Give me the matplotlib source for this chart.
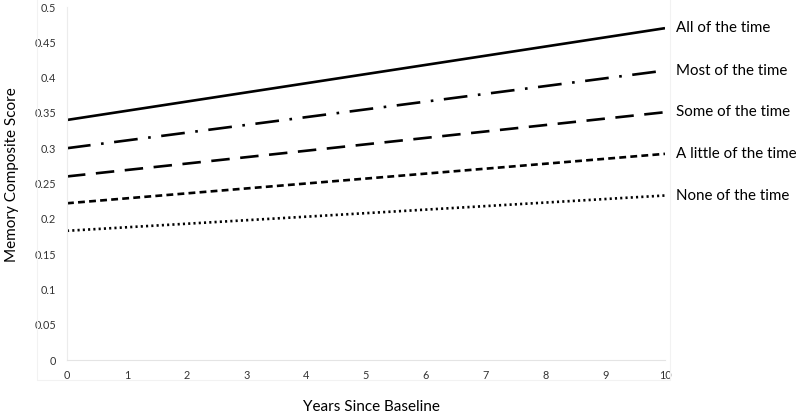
import matplotlib
matplotlib.use("Agg")
import matplotlib.pyplot as plt
from matplotlib.patches import Rectangle

years = [0, 10]
series_names = ["All of the time", "Most of the time", "Some of the time",
                "A little of the time", "None of the time"]
all_time = [0.34, 0.47]
most_time = [0.30, 0.41]
some_time = [0.26, 0.351]
little_time = [0.222, 0.292]
none_time = [0.183, 0.233]
series_values = [all_time, most_time, some_time, little_time, none_time]
x_ticks = list(range(0, 11))
y_ticks = [0, 0.05, 0.1, 0.15, 0.2, 0.25, 0.3, 0.35, 0.4, 0.45, 0.5]
y_tick_labels = ["0", "0.05", "0.1", "0.15", "0.2", "0.25", "0.3", "0.35", "0.4", "0.45", "0.5"]

styles = [
    "-",
    (0, (9, 4, 1, 4)),
    (0, (7, 4)),
    (0, (2.6, 1.6)),
    (0, (0.8, 1.2)),
]

plt.rcParams['font.family'] = ['Lato', 'DejaVu Sans']

fig = plt.figure(figsize=(8, 4.15), dpi=100)
ax = fig.add_axes([67/800, 1 - 360/415, (665-67)/800, (360-7)/415])

for name, vals, ls in zip(series_names, series_values, styles):
    ax.plot(years, vals, color="black", linewidth=1.9, linestyle=ls,
            solid_capstyle="butt", dash_capstyle="butt")
    ax.annotate(name, xy=(years[-1], vals[-1]), xytext=(8, 0),
                textcoords="offset points", va="center", ha="left",
                fontsize=10.9, color="black", annotation_clip=False)

ax.set_xlim(0, 10)
ax.set_ylim(0, 0.5)
ax.set_xticks(x_ticks)
ax.set_xticklabels([str(t) for t in x_ticks], fontsize=7.8, color="#333333")
ax.set_yticks(y_ticks)
ax.set_yticklabels(y_tick_labels, fontsize=7.8, color="#333333")
ax.tick_params(axis="y", length=0, pad=8)
ax.tick_params(axis="x", length=0, pad=7)
for side in ["top", "right"]:
    ax.spines[side].set_visible(False)
ax.spines["left"].set_color("#ececec")
ax.spines["bottom"].set_color("#e4e4e4")
ax.spines["left"].set_linewidth(0.8)
ax.spines["bottom"].set_linewidth(0.8)

fig.text(371/800, 1 - 407/415, "Years Since Baseline", fontsize=11,
         ha="center", va="center")
fig.text(12/800, 1 - 175/415, "Memory Composite Score", fontsize=11,
         ha="center", va="center", rotation=90)

# faint outer plot frame
fig.patches.append(Rectangle((37/800, 1 - 380/415), (670-37)/800, 380/415 + 0.01,
                             transform=fig.transFigure, fill=False,
                             edgecolor="#f2f2f2", linewidth=0.8))

fig.savefig("out.png", dpi=100)
